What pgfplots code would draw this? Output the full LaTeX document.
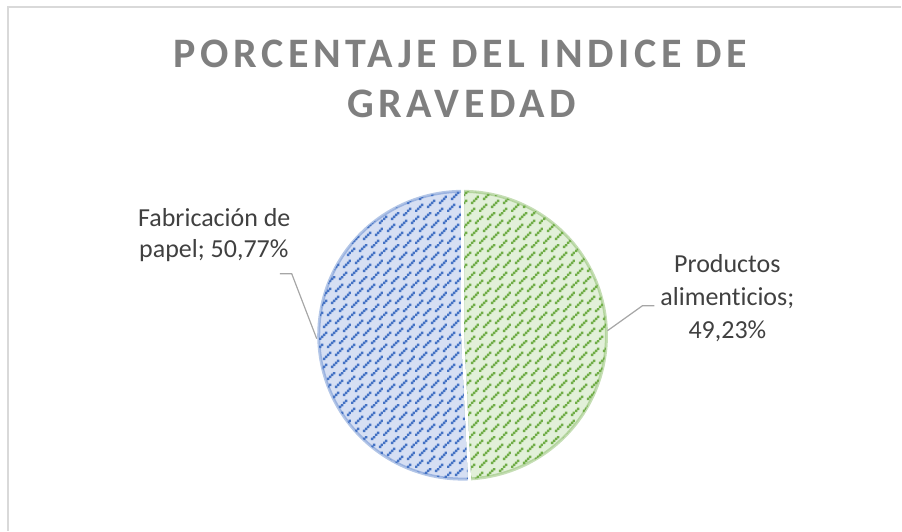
\documentclass[border=0pt]{standalone}
\usepackage{pgfplots}
\pgfplotsset{compat=1.18}
\usepackage{pgfplotstable}
\usepackage{fontspec}
\setmainfont{Carlito}[Ligatures={NoCommon}]
\usetikzlibrary{patterns}
\definecolor{titlegray}{HTML}{7F7F7F}
\definecolor{labgray}{HTML}{404040}
\definecolor{leadgray}{HTML}{A6A6A6}
\definecolor{framegray}{HTML}{D9D9D9}
\definecolor{bluefg}{HTML}{4472C4}
\definecolor{bluebg}{HTML}{D6DFF3}
\definecolor{greenfg}{HTML}{70AD47}
\definecolor{greenbg}{HTML}{E2F0D9}
% staggered "dashed upward diagonal" texture (16x16 cells of 1pt)
\newcommand\sq[2]{\pgfpathrectangle{\pgfqpoint{#1pt}{#2pt}}{\pgfqpoint{1.2pt}{1.2pt}}}
\pgfdeclarepatternformonly{dashupdiag}{\pgfqpoint{0pt}{0pt}}{\pgfqpoint{16pt}{16pt}}{\pgfqpoint{16pt}{16pt}}{%
  \sq{0}{0}\sq{1}{1}\sq{2}{2}\sq{3}{3}\sq{8}{8}\sq{9}{9}\sq{10}{10}\sq{11}{11}%
  \sq{6}{2}\sq{7}{3}\sq{8}{4}\sq{9}{5}\sq{14}{10}\sq{14.8}{11}\sq{0}{12}\sq{1}{13}%
  \sq{12}{4}\sq{13}{5}\sq{14}{6}\sq{14.8}{7}\sq{4}{12}\sq{5}{13}\sq{6}{14}\sq{7}{14.8}%
  \sq{2}{6}\sq{3}{7}\sq{4}{8}\sq{5}{9}\sq{10}{14}\sq{11}{14.8}\sq{12}{0}\sq{13}{1}%
  \pgfusepath{fill}}
\pgfplotstableread{
cat value
Productos 49.23
Fabricacion 50.77
}\piedata
\begin{document}%
\begin{tikzpicture}
\pgfplotstablegetelem{0}{value}\of\piedata\let\vA\pgfplotsretval
\pgfplotstablegetelem{1}{value}\of\piedata\let\vB\pgfplotsretval
\pgfmathsetmacro\angB{90-3.6*\vA}
\pgfmathsetmacro\angC{\angB-3.6*\vB}
\def\cx{463}\def\cy{195.5}\def\r{144}
\pgfmathsetmacro\bx{\cx+146*cos(\angB)}
\pgfmathsetmacro\by{\cy+146*sin(\angB)}
\begin{axis}[at={(0,0)},anchor=south west,scale only axis,
  width=451pt,height=265.5pt,xmin=0,xmax=902,ymin=0,ymax=531,
  xtick=\empty,ytick=\empty,axis line style={draw=none},clip=false]
% chart frame
\addplot[framegray,line width=0.8pt] coordinates {(8,0) (8,524) (902,524)};
% slices: background
\addplot[draw=none,fill=greenbg,domain=\angB:90,samples=160,variable=\t]
  ({\cx+\r*cos(\t)},{\cy+\r*sin(\t)}) -- (\cx,\cy) -- cycle;
\addplot[draw=none,fill=bluebg,domain=\angC:\angB,samples=160,variable=\t]
  ({\cx+\r*cos(\t)},{\cy+\r*sin(\t)}) -- (\cx,\cy) -- cycle;
% slices: pattern and soft rim
\addplot[draw=greenfg,draw opacity=0.4,line width=1.5pt,pattern=dashupdiag,pattern color=greenfg,
  domain=\angB:90,samples=160,variable=\t]
  ({\cx+\r*cos(\t)},{\cy+\r*sin(\t)}) -- (\cx,\cy) -- cycle;
\addplot[draw=bluefg,draw opacity=0.4,line width=1.5pt,pattern=dashupdiag,pattern color=bluefg,
  domain=\angC:\angB,samples=160,variable=\t]
  ({\cx+\r*cos(\t)},{\cy+\r*sin(\t)}) -- (\cx,\cy) -- cycle;
% white separators
\addplot[white,line width=1.5pt] coordinates {(\cx,\cy) (\cx,342)};
\addplot[white,line width=1.5pt] coordinates {(\cx,\cy) (\bx,\by)};
% leader lines
\addplot[leadgray,line width=0.6pt] coordinates {(280,257) (292,257) (317,192)};
\addplot[leadgray,line width=0.6pt] coordinates {(655,225) (643,225) (608,200)};
% title
\node[anchor=base,text=titlegray,font=\fontsize{21pt}{25pt}\selectfont\bfseries\addfontfeature{LetterSpace=11}] at (461,463) {PORCENTAJE DEL INDICE DE};
\node[anchor=base,text=titlegray,font=\fontsize{21pt}{25pt}\selectfont\bfseries\addfontfeature{LetterSpace=11}] at (462,413) {GRAVEDAD};
% data labels
\node[anchor=base,text=labgray,font=\fontsize{13pt}{16pt}\selectfont] at (214.5,304) {Fabricación de};
\node[anchor=base,text=labgray,font=\fontsize{13pt}{16pt}\selectfont] at (214,273) {papel; 50,77\%};
\node[anchor=base,text=labgray,font=\fontsize{13pt}{16pt}\selectfont] at (728,258) {Productos};
\node[anchor=base,text=labgray,font=\fontsize{13pt}{16pt}\selectfont] at (728,225) {alimenticios;};
\node[anchor=base,text=labgray,font=\fontsize{13pt}{16pt}\selectfont] at (728,192) {49,23\%};
\end{axis}
\end{tikzpicture}%
\end{document}
